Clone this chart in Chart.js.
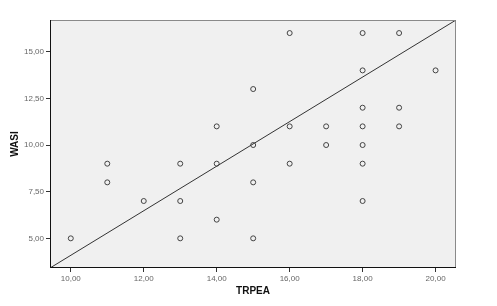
<!DOCTYPE html>
<html>
<head>
<meta charset="utf-8">
<script src="https://cdn.jsdelivr.net/npm/chart.js@4"></script>
<style>
  html, body { margin: 0; padding: 0; background: #fff; }
  #wrap { width: 497px; height: 306px; }
</style>
</head>
<body>
<div id="wrap"><canvas id="c" width="497" height="306"></canvas></div>
<script>
// TRPEA (x) vs WASI (y)
const trpea = [10, 11, 11, 12, 13, 13, 13, 14, 14, 14, 15, 15, 15, 15, 16, 16, 16, 17, 17, 18, 18, 18, 18, 18, 18, 18, 19, 19, 19, 20];
const wasi  = [5,  9,  8,  7,  9,  7,  5,  11, 9,  6,  13, 10, 8,  5,  16, 11, 9,  11, 10, 16, 14, 12, 11, 10, 9,  7,  16, 12, 11, 14];
// fit line ends
const fitX = [9.43, 20.56];
const fitY = [3.41, 16.7];
const xTicks = [10, 12, 14, 16, 18, 20];
const yTicks = [5, 7.5, 10, 12.5, 15];

const fmt = v => v.toFixed(2).replace('.', ',');

/* gray plot background + SPSS style frame (dark left/bottom, gray top/right) */
const frame = {
  id: 'frame',
  beforeDraw(chart) {
    const { ctx, chartArea: a } = chart;
    ctx.save();
    ctx.fillStyle = '#f0f0f0';
    ctx.fillRect(a.left, a.top, a.right - a.left, a.bottom - a.top);
    ctx.restore();
  },
  afterDraw(chart) {
    const { ctx, chartArea: a } = chart;
    ctx.save();
    ctx.lineWidth = 1;
    ctx.strokeStyle = '#8a8a8a';
    ctx.beginPath();
    ctx.moveTo(a.left, a.top + 0.5); ctx.lineTo(a.right - 0.5, a.top + 0.5); ctx.lineTo(a.right - 0.5, a.bottom);
    ctx.stroke();
    ctx.strokeStyle = '#111';
    ctx.beginPath();
    ctx.moveTo(a.left + 0.5, a.top); ctx.lineTo(a.left + 0.5, a.bottom - 0.5); ctx.lineTo(a.right, a.bottom - 0.5);
    ctx.stroke();
    ctx.restore();
  }
};

const tickFont = { family: "'Liberation Sans', Arial, sans-serif", size: 8 };
const titleFont = { family: "'Liberation Sans', Arial, sans-serif", size: 10, weight: 'bold' };

new Chart(document.getElementById('c'), {
  type: 'scatter',
  data: {
    datasets: [
      {
        data: trpea.map((x, i) => ({ x, y: wasi[i] })),
        pointStyle: 'circle', pointRadius: 2.5, pointBorderWidth: 1,
        pointBorderColor: '#444', pointBackgroundColor: 'rgba(0,0,0,0)'
      },
      {
        type: 'line',
        data: fitX.map((x, i) => ({ x, y: fitY[i] })),
        borderColor: '#333', borderWidth: 1, pointRadius: 0, fill: false
      }
    ]
  },
  options: {
    responsive: false,
    animation: false,
    layout: { padding: { top: 20, right: 41, left: 9, bottom: 9 } },
    plugins: { legend: { display: false }, tooltip: { enabled: false } },
    scales: {
      x: {
        type: 'linear', min: 9.43, max: 20.56,
        afterBuildTicks: s => { s.ticks = xTicks.map(v => ({ value: v })); },
        afterFit: s => { s.height = 29; },
        grid: { drawOnChartArea: false, tickLength: 4, color: '#333' },
        border: { display: false },
        ticks: { color: '#666', font: tickFont, padding: 2, maxRotation: 0, callback: v => fmt(v) },
        title: { display: true, text: 'TRPEA', color: '#111', font: titleFont, padding: { top: 4, bottom: 0 } }
      },
      y: {
        type: 'linear', min: 3.41, max: 16.7,
        afterBuildTicks: s => { s.ticks = yTicks.map(v => ({ value: v })); },
        afterFit: s => { s.width = 41; },
        grid: { drawOnChartArea: false, tickLength: 4, color: '#333' },
        border: { display: false },
        ticks: { color: '#666', font: tickFont, padding: 2, callback: v => fmt(v) },
        title: { display: true, text: 'WASI', color: '#111', font: titleFont, padding: { top: 0, bottom: 6 } }
      }
    }
  },
  plugins: [frame]
});
</script>
</body>
</html>
